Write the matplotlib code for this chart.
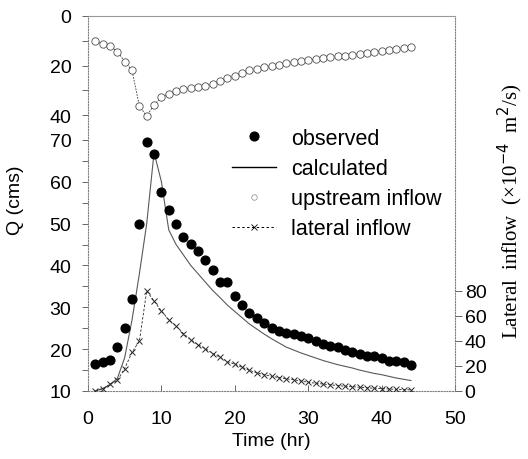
import numpy as np
import matplotlib
matplotlib.use('Agg')
import matplotlib.pyplot as plt
from matplotlib.lines import Line2D

plt.rcParams['font.family'] = 'Liberation Sans'

# hourly series
hours = np.arange(1, 45)

observed = [16.5, 17.0, 17.5, 20.5, 25.0, 32.0, 49.9, 69.6, 66.7, 57.5,
            53.2, 49.9, 46.8, 45.1, 43.5, 41.2, 39.0, 36.1, 36.1, 32.7,
            30.6, 28.7, 27.4, 26.2, 25.0, 24.4, 23.9, 23.6, 23.1, 22.6,
            22.0, 21.3, 20.8, 20.4, 19.9, 19.3, 18.9, 18.4, 18.3, 17.8,
            17.2, 17.2, 17.0, 16.2]

calculated = [10.0, 10.6, 11.5, 13.0, 18.0, 27.0, 38.0, 50.0, 67.0, 60.0,
              48.5, 45.0, 42.5, 40.0, 38.0, 36.0, 34.0, 32.3, 30.5, 29.0,
              27.5, 26.0, 24.8, 23.6, 22.5, 21.5, 20.5, 19.8, 19.1, 18.5,
              17.9, 17.3, 16.8, 16.3, 15.9, 15.5, 15.0, 14.6, 14.2, 13.9,
              13.5, 13.1, 12.8, 12.5]

upstream = [10.2, 11.3, 12.0, 14.4, 18.4, 22.0, 36.4, 40.4, 35.9, 32.8,
            31.4, 30.1, 29.4, 29.2, 28.8, 28.1, 27.4, 26.1, 25.1, 24.1,
            23.0, 22.0, 21.4, 20.8, 20.2, 19.6, 19.0, 18.6, 18.2, 17.8,
            17.4, 17.0, 16.6, 16.3, 16.0, 15.6, 15.3, 15.0, 14.6, 14.2,
            13.8, 13.4, 13.0, 12.6]

lateral = [0.0, 1.5, 5.5, 8.5, 18.0, 31.0, 40.0, 80.0, 72.0, 64.0,
           57.0, 52.0, 46.0, 41.0, 37.0, 34.0, 30.0, 27.0, 23.5, 21.5,
           19.0, 16.5, 14.5, 13.0, 11.8, 10.8, 9.8, 9.0, 8.0, 7.0,
           6.2, 5.6, 5.0, 4.4, 3.8, 3.4, 3.0, 2.6, 2.2, 1.9,
           1.6, 1.3, 1.1, 0.9]

fig = plt.figure(figsize=(5.28, 4.60), dpi=100)
ax = fig.add_axes([88/528, 1 - 392/460, 367/528, 375/460])

# Q axis (main)
ax.plot(hours, calculated, '-', color='0.35', lw=0.8, zorder=2)
ax.plot(hours, observed, 'o', color='black', ms=6.3, zorder=3)
ax.set_xlim(0, 50)
ax.set_ylim(10, 99.6)
ax.set_yticks([10, 20, 30, 40, 50, 60, 70])
ax.set_yticks(np.arange(15, 70, 10), minor=True)
ax.set_xticks(np.arange(0, 51, 10))
ax.tick_params(axis='y', which='both', direction='out', length=4, width=0.7,
               color='0.4', labelsize=14, pad=8)
ax.tick_params(axis='x', direction='in', length=4, width=0.7, color='0.4',
               labelsize=14, pad=14)
ax.set_xlabel('Time (hr)', fontsize=14, labelpad=3)
ax.set_ylabel('Q (cms)', fontsize=14)
ax.yaxis.set_label_coords(-0.175, 0.51)
for s in ax.spines.values():
    s.set_color('0.5')
    s.set_linewidth(0.8)
    s.set_linestyle((0, (1, 1.5)))
ax.spines['top'].set_linestyle('-')
ax.spines['top'].set_color('0.6')

# upstream inflow, inverted axis at the top left
ax_up = ax.twinx()
ax_up.plot(hours, upstream, '--', color='0.2', lw=0.6, marker='o',
           mfc='white', mec='0.3', mew=0.6, ms=5.3, dashes=(2, 1.5))
ax_up.set_ylim(151.5, 0)
ax_up.yaxis.tick_left()
ax_up.set_yticks([0, 20, 40])
ax_up.set_yticks([10, 30], minor=True)
ax_up.tick_params(axis='y', which='both', direction='out', length=4, width=0.7,
                  color='0.4', labelsize=14, pad=8)
for s in ax_up.spines.values():
    s.set_visible(False)

# lateral inflow, right axis
ax_lat = ax.twinx()
ax_lat.plot(hours, lateral, '--', color='0.15', lw=0.6, marker='x',
            ms=5, mew=0.7, dashes=(3, 2))
ax_lat.set_ylim(0, 300)
ax_lat.set_yticks([0, 20, 40, 60, 80])
ax_lat.tick_params(axis='y', direction='out', length=5, width=0.7,
                   color='0.4', labelsize=14, pad=2)
for s in ax_lat.spines.values():
    s.set_visible(False)
fig.text(0.966, 1 - 211/460, 'Lateral  inflow  (\u00d710$^{-4}$  m$^2$/s)',
         rotation=90, ha='center', va='center', fontsize=15,
         family='Liberation Serif')

handles = [
    Line2D([], [], ls='none', marker='o', color='black', ms=6.3),
    Line2D([], [], ls='-', color='black', lw=1.0),
    Line2D([], [], ls='none', marker='o', mfc='white', mec='0.6', ms=4, mew=0.6),
    Line2D([], [], ls='--', color='black', lw=0.7, marker='x', ms=5,
           mew=0.6, dashes=(2.5, 2.5)),
]
labels = ['observed', 'calculated', 'upstream inflow', 'lateral inflow']
ax.legend(handles, labels, loc='upper left', bbox_to_anchor=(232/528, 1 - 129/460),
          bbox_transform=fig.transFigure, frameon=False, fontsize=15.5,
          handlelength=2.05, handletextpad=0.7, labelspacing=0.42,
          borderpad=0, borderaxespad=0, numpoints=1)

fig.savefig('out.png', dpi=100)
